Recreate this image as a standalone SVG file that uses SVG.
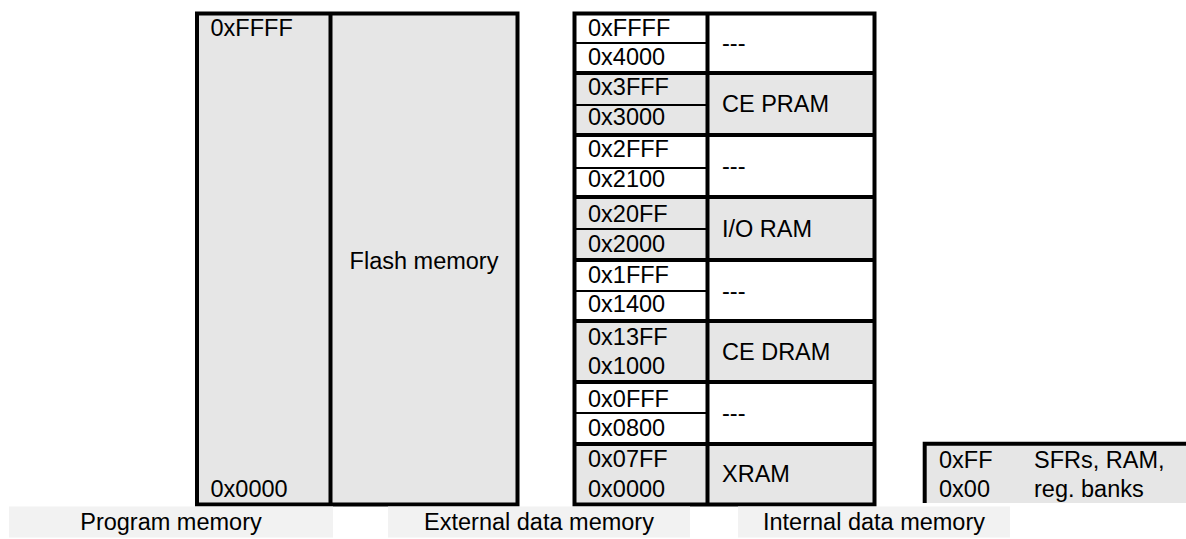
<svg xmlns="http://www.w3.org/2000/svg" width="1186" height="539" viewBox="0 0 1186 539">
<style>
text{font-family:"Liberation Sans",Arial,sans-serif;font-size:23.5px;fill:#000}
.g{fill:#e6e6e6}
.w{fill:#ffffff}
.lbl{fill:#f2f2f2}
.thick{stroke:#000;stroke-width:4;fill:none}
.thin{stroke:#000;stroke-width:2;fill:none}
.c{text-anchor:middle}
</style>
<rect width="1186" height="539" fill="#ffffff"/>
<g id="program-memory">
<rect class="g" x="197" y="13.5" width="320.5" height="491"/>
<rect class="thick" x="197" y="13.5" width="320.5" height="491"/>
<line class="thick" x1="330.5" y1="13.5" x2="330.5" y2="504.5"/>
<text x="210.5" y="36">0xFFFF</text>
<text x="210.5" y="497">0x0000</text>
<text class="c" x="424" y="269">Flash memory</text>
</g>
<g id="external-data-memory">
<rect class="w" x="574.5" y="13.5" width="300" height="59.5"/>
<rect class="g" x="574.5" y="73" width="300" height="62"/>
<rect class="w" x="574.5" y="135" width="300" height="62"/>
<rect class="g" x="574.5" y="197" width="300" height="63"/>
<rect class="w" x="574.5" y="260" width="300" height="61"/>
<rect class="g" x="574.5" y="321" width="300" height="61"/>
<rect class="w" x="574.5" y="382" width="300" height="62"/>
<rect class="g" x="574.5" y="444" width="300" height="60.5"/>
<line class="thin" x1="574.5" y1="43" x2="707.5" y2="43"/>
<line class="thin" x1="574.5" y1="105" x2="707.5" y2="105"/>
<line class="thin" x1="574.5" y1="168" x2="707.5" y2="168"/>
<line class="thin" x1="574.5" y1="229" x2="707.5" y2="229"/>
<line class="thin" x1="574.5" y1="291" x2="707.5" y2="291"/>
<line class="thin" x1="574.5" y1="413" x2="707.5" y2="413"/>
<line class="thick" x1="574.5" y1="73" x2="874.5" y2="73"/>
<line class="thick" x1="574.5" y1="135" x2="874.5" y2="135"/>
<line class="thick" x1="574.5" y1="197" x2="874.5" y2="197"/>
<line class="thick" x1="574.5" y1="260" x2="874.5" y2="260"/>
<line class="thick" x1="574.5" y1="321" x2="874.5" y2="321"/>
<line class="thick" x1="574.5" y1="382" x2="874.5" y2="382"/>
<line class="thick" x1="574.5" y1="444" x2="874.5" y2="444"/>
<line class="thick" x1="707.5" y1="13.5" x2="707.5" y2="504.5"/>
<rect class="thick" x="574.5" y="13.5" width="300" height="491"/>
<text x="588" y="36">0xFFFF</text>
<text x="588" y="65">0x4000</text>
<text x="588" y="95">0x3FFF</text>
<text x="588" y="125">0x3000</text>
<text x="588" y="157">0x2FFF</text>
<text x="588" y="187">0x2100</text>
<text x="588" y="222">0x20FF</text>
<text x="588" y="252">0x2000</text>
<text x="588" y="283">0x1FFF</text>
<text x="588" y="312">0x1400</text>
<text x="588" y="345">0x13FF</text>
<text x="588" y="374">0x1000</text>
<text x="588" y="407">0x0FFF</text>
<text x="588" y="436">0x0800</text>
<text x="588" y="467">0x07FF</text>
<text x="588" y="497">0x0000</text>
<text x="722" y="51">---</text>
<text x="722" y="112">CE PRAM</text>
<text x="722" y="174">---</text>
<text x="722" y="237">I/O RAM</text>
<text x="722" y="299">---</text>
<text x="722" y="360">CE DRAM</text>
<text x="722" y="421">---</text>
<text x="722" y="482">XRAM</text>
</g>
<g id="internal-data-memory">
<rect class="g" x="925" y="444" width="261" height="59"/>
<path class="thick" d="M924.7,503 V443.7 H1186"/>
<text x="939" y="468">0xFF</text>
<text x="939" y="497">0x00</text>
<text x="1034" y="468">SFRs, RAM,</text>
<text x="1034" y="497">reg. banks</text>
</g>
<g id="label-program">
<rect class="lbl" x="9" y="506.5" width="324" height="31"/>
<text class="c" x="171" y="530">Program memory</text>
</g>
<g id="label-external">
<rect class="lbl" x="388" y="506.5" width="302" height="31"/>
<text class="c" x="539" y="530">External data memory</text>
</g>
<g id="label-internal">
<rect class="lbl" x="738" y="506.5" width="272" height="31"/>
<text class="c" x="874" y="530">Internal data memory</text>
</g>
</svg>
